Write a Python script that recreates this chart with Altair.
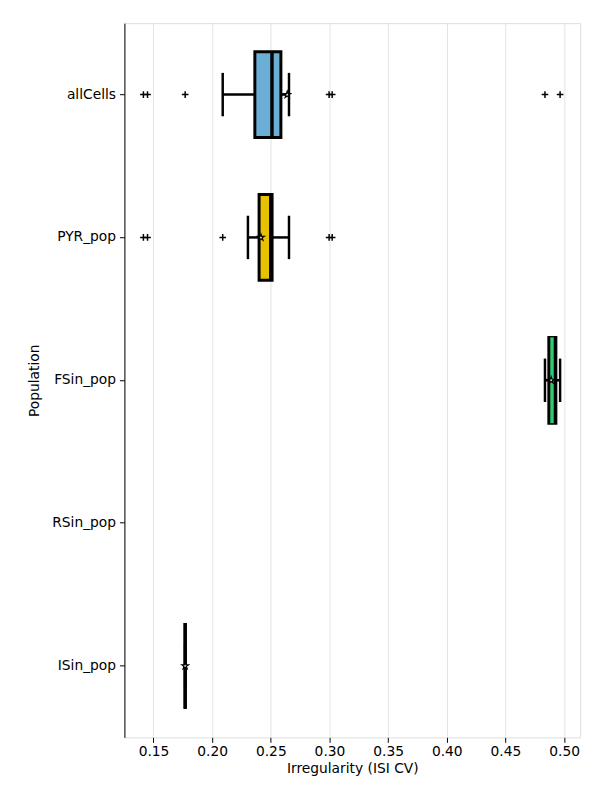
import altair as alt
import pandas as pd

pops = ["allCells", "PYR_pop", "FSin_pop", "RSin_pop", "ISin_pop"]
box_pops = ["allCells", "PYR_pop", "FSin_pop", "ISin_pop"]
q1 = [0.2364, 0.2400, 0.4870, 0.177]
q3 = [0.2586, 0.2511, 0.4930, 0.177]
med = [0.2510, 0.2500, 0.4897, 0.177]
wlo = [0.2090, 0.2305, 0.4837, 0.177]
whi = [0.2655, 0.2655, 0.4966, 0.177]
mean = [0.2640, 0.2416, 0.4890, 0.177]
fills = ["#6baed6", "#e6c200", "#000000", "#000000"]
med_col = ["#000000", "#000000", "#2ecc71", "#000000"]
out_pop = ["allCells"] * 7 + ["PYR_pop"] * 5
out_val = [0.1414, 0.1449, 0.177, 0.2997, 0.3023, 0.4837, 0.4966,
           0.1414, 0.1449, 0.209, 0.2997, 0.3023]

box = pd.DataFrame(dict(pop=box_pops, q1=q1, q3=q3, med=med, wlo=wlo, whi=whi,
                        mean=mean, fill=fills, mc=med_col))
outs = pd.DataFrame(dict(pop=out_pop, v=out_val))

y = alt.Y("pop:N", sort=pops, scale=alt.Scale(domain=pops, paddingInner=0, paddingOuter=0),
          axis=alt.Axis(title="Population", grid=False, ticks=True, domain=True,
                        domainColor="black", labelFontSize=14, titleFontSize=14,
                        titleFontWeight="normal", labelColor="black", titleColor="black",
                        tickColor="black", labelPadding=4, titlePadding=10))
xs = alt.Scale(domain=[0.1252, 0.5137], nice=False, zero=False)
xax = alt.Axis(title="Irregularity (ISI CV)", values=[0.15, 0.2, 0.25, 0.3, 0.35, 0.4, 0.45, 0.5],
               format=".2f", grid=True, gridColor="#e3e3e3", domain=False, labelFontSize=14,
               titleFontSize=14, titleFontWeight="normal", labelColor="black", titleColor="black",
               tickColor="black", titlePadding=4)

base = alt.Chart(box)
wl = base.mark_rule(strokeWidth=2.5, color="black").encode(
    x=alt.X("wlo:Q", scale=xs, axis=xax), x2="q1:Q", y=y)
wh = base.mark_rule(strokeWidth=2.5, color="black").encode(x=alt.X("q3:Q", scale=xs), x2="whi:Q", y=y)
c1 = base.mark_tick(orient="vertical", size=44, thickness=2.5, color="black", opacity=1).encode(x=alt.X("wlo:Q", scale=xs), y=y)
c2 = base.mark_tick(orient="vertical", size=44, thickness=2.5, color="black", opacity=1).encode(x=alt.X("whi:Q", scale=xs), y=y)
bx = base.mark_bar(size=87, stroke="black", strokeWidth=3).encode(
    x=alt.X("q1:Q", scale=xs), x2="q3:Q", y=y, fill=alt.Fill("fill:N", scale=None))
md = base.mark_tick(orient="vertical", size=87, thickness=3.5, opacity=1).encode(
    x=alt.X("med:Q", scale=xs), y=y, color=alt.Color("mc:N", scale=None))
star = "M0,-1L0.22,-0.3L0.95,-0.3L0.36,0.12L0.59,0.81L0,0.38L-0.59,0.81L-0.36,0.12L-0.95,-0.3L-0.22,-0.3Z"
mn = base.mark_point(shape=star, size=50, filled=True, fill="white", stroke="black", strokeWidth=1.2, opacity=1).encode(
    x=alt.X("mean:Q", scale=xs), y=y)
ol = alt.Chart(outs).mark_point(shape="M-1,0L1,0M0,-1L0,1", size=45, filled=False, color="black",
                                strokeWidth=1.5, opacity=1).encode(x=alt.X("v:Q", scale=xs), y=y)

chart = alt.layer(wl, wh, c1, c2, bx, md, mn, ol).properties(
    width=462, height=724, autosize="none",
    padding={"left": 118, "top": 10, "right": 12, "bottom": 50}
).configure_view(strokeWidth=0, stroke="transparent").configure(font="DejaVu Sans")

chart.save("out.html", embed_options={"renderer": "svg", "actions": False})
